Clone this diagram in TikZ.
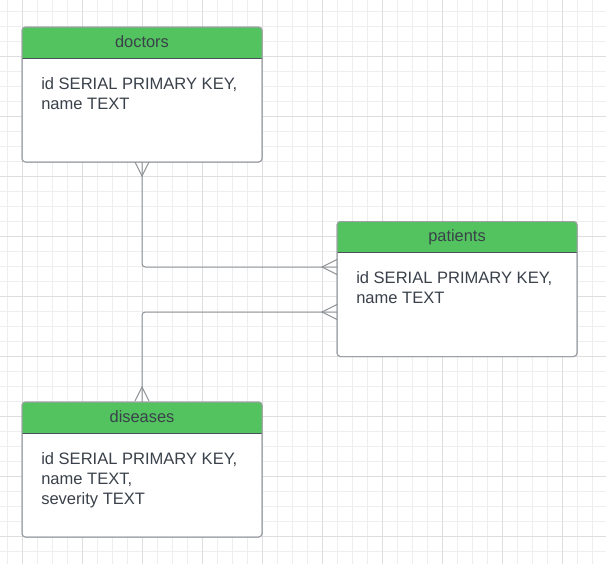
\documentclass[tikz,border=0pt]{standalone}
\usepackage{fontspec}
\setmainfont{Liberation Sans}
\usetikzlibrary{calc}
\definecolor{gridminor}{HTML}{EEEEEE}
\definecolor{gridmajor}{HTML}{DEDEDE}
\definecolor{hdr}{HTML}{52C35E}
\definecolor{txt}{HTML}{3A414A}
\definecolor{bord}{HTML}{9DA1A6}
\definecolor{sepline}{HTML}{4A5058}
\definecolor{conn}{HTML}{8E9296}
\begin{document}
\begin{tikzpicture}[x=0.75pt,y=-0.75pt,
  tablebox/.style={draw=bord, fill=white, line width=0.75pt, rounded corners=2.5pt,
    minimum width=180pt, minimum height=101.25pt, inner sep=0pt, outer sep=0pt},
  hdrtext/.style={text=txt, font=\fontsize{12.3pt}{15pt}\selectfont, inner sep=0pt, anchor=base},
  bodytext/.style={text=txt, font=\fontsize{12.4pt}{15pt}\selectfont, inner sep=0pt, anchor=base west},
  connector/.style={draw=conn, line width=0.75pt, rounded corners=2.5pt},
  crowfoot/.style={draw=conn, line width=0.75pt}
]
\useasboundingbox (0,0) rectangle (606,564);
\fill[white] (0,0) rectangle (606,564);
% grid
\foreach \i in {0,...,40} {
  \draw[gridminor, line width=0.75pt] ({7.3+15*\i},0) -- ({7.3+15*\i},564);
  \draw[gridminor, line width=0.75pt] (0,{11.3+15*\i}) -- (606,{11.3+15*\i});
}
\foreach \i in {0,...,10} {
  \draw[gridmajor, line width=0.75pt] ({22.3+60*\i},0) -- ({22.3+60*\i},564);
  \draw[gridmajor, line width=0.75pt] (0,{56.3+60*\i}) -- (606,{56.3+60*\i});
}

% tables
\node[tablebox] (doctors) at (142,94.5) {};
\node[tablebox] (patients) at (457,289) {};
\node[tablebox] (diseases) at (142,469.5) {};

\foreach \t in {doctors,patients,diseases} {
  \fill[hdr, rounded corners=2.5pt] (\t.north west) rectangle ($(\t.north east)+(0,31)$);
  \fill[hdr] ($(\t.north west)+(0,10)$) rectangle ($(\t.north east)+(0,31)$);
  \draw[sepline, line width=0.75pt] ($(\t.north west)+(0,31)$) -- ($(\t.north east)+(0,31)$);
  \draw[bord, line width=0.75pt, rounded corners=2.5pt] (\t.north west) rectangle (\t.south east);
}

% titles
\node[hdrtext] (doctorsTitle) at ($(doctors.north)+(0,20)$) {doctors};
\node[hdrtext] (patientsTitle) at ($(patients.north)+(0,20)$) {patients};
\node[hdrtext] (diseasesTitle) at ($(diseases.north)+(0,20)$) {diseases};

% body texts
\node[bodytext] (doctorsA) at ($(doctors.north west)+(19,62)$) {id SERIAL PRIMARY KEY,};
\node[bodytext] (doctorsB) at ($(doctors.north west)+(19,82)$) {name TEXT};
\node[bodytext] (patientsA) at ($(patients.north west)+(19,62)$) {id SERIAL PRIMARY KEY,};
\node[bodytext] (patientsB) at ($(patients.north west)+(19,82)$) {name TEXT};
\node[bodytext] (diseasesA) at ($(diseases.north west)+(19,62)$) {id SERIAL PRIMARY KEY,};
\node[bodytext] (diseasesB) at ($(diseases.north west)+(19,82)$) {name TEXT,};
\node[bodytext] (diseasesC) at ($(diseases.north west)+(19,102)$) {severity TEXT};

% connectors
\coordinate (pA) at ($(patients.west)+(0,-22)$);
\coordinate (pB) at ($(patients.west)+(0,23)$);
\draw[connector] (doctors.south) |- (pA);
\draw[connector] (diseases.north) |- (pB);

% crow's feet
\draw[crowfoot] ($(doctors.south)+(-7,0)$) -- ($(doctors.south)+(0,14)$) -- ($(doctors.south)+(7,0)$);
\draw[crowfoot] ($(pA)+(0,-7.5)$) -- ($(pA)+(-15,0)$) -- ($(pA)+(0,7.5)$);
\draw[crowfoot] ($(pB)+(0,-7.5)$) -- ($(pB)+(-15,0)$) -- ($(pB)+(0,7.5)$);
\draw[crowfoot] ($(diseases.north)+(-7,-1)$) -- ($(diseases.north)+(0,-15)$) -- ($(diseases.north)+(7,-1)$);
\end{tikzpicture}
\end{document}
